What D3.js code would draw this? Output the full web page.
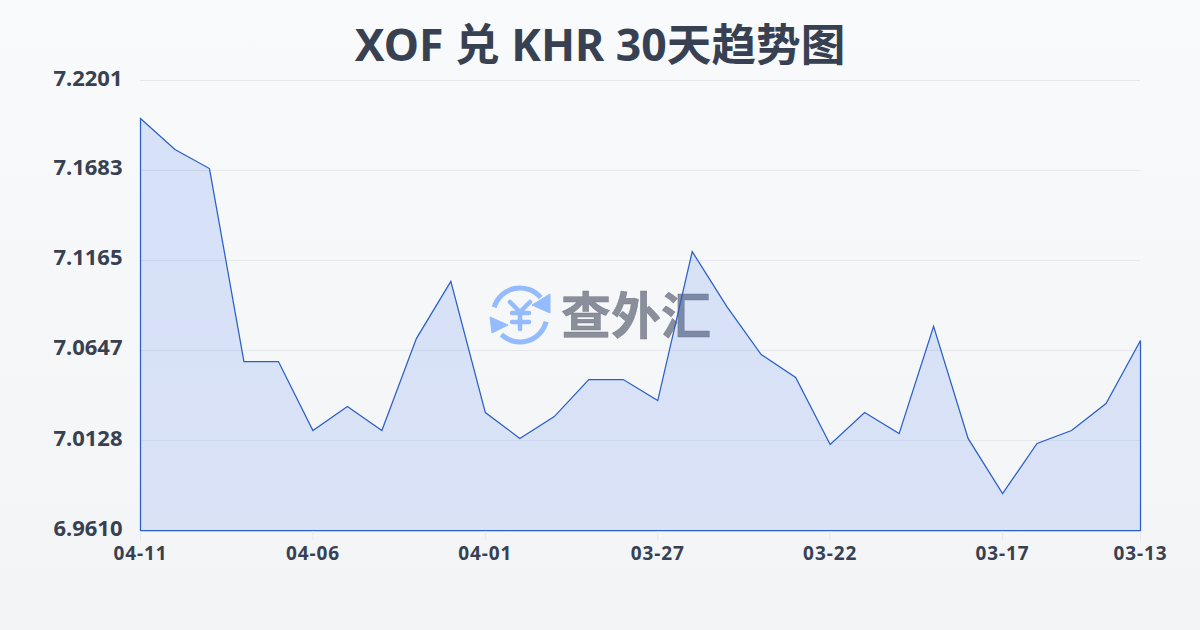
<!DOCTYPE html>
<html><head><meta charset="utf-8">
<script src="https://cdn.jsdelivr.net/npm/d3@7/dist/d3.min.js"></script>
<style>html,body{margin:0;padding:0;background:#f4f6f9}svg{display:block}text{font-family:"Noto Sans","Noto Sans CJK SC",sans-serif}</style>
</head><body><div id="chart"></div>
<script>
const titleText = "XOF 兑 KHR 30天趋势图";
const dates = ["04-11","04-10","04-09","04-08","04-07","04-06","04-05","04-04","04-03","04-02","04-01","03-31","03-30","03-29","03-28","03-27","03-26","03-25","03-24","03-23","03-22","03-21","03-20","03-19","03-18","03-17","03-16","03-15","03-14","03-13"];
const rates = [7.1982,7.1804,7.1694,7.0583,7.0583,7.0186,7.0324,7.0186,7.0715,7.1044,7.0289,7.0140,7.0266,7.0479,7.0479,7.0358,7.1216,7.0900,7.0623,7.0491,7.0105,7.0289,7.0168,7.0785,7.0140,6.9823,7.0111,7.0186,7.0341,7.0704];
const yTicks = [6.9610,7.0128,7.0647,7.1165,7.1683,7.2201];
const xTicks = ["04-11","04-06","04-01","03-27","03-22","03-17","03-13"];
const watermark = "查外汇";

const W=1200,H=630,m={l:140,r:60,t:80,b:100};
const svg=d3.select("#chart").append("svg").attr("width",W).attr("height",H);
const defs=svg.append("defs");
const bg=defs.append("linearGradient").attr("id","bg").attr("x1",0).attr("y1",0).attr("x2",0).attr("y2",1);
bg.append("stop").attr("offset",0).attr("stop-color","#f9fafb");
bg.append("stop").attr("offset",1).attr("stop-color","#f3f4f6");
const ag=defs.append("linearGradient").attr("id","ag").attr("gradientUnits","userSpaceOnUse").attr("x1",0).attr("y1",m.t).attr("x2",0).attr("y2",H-m.b);
ag.append("stop").attr("offset",0).attr("stop-color","#2563eb").attr("stop-opacity",.16);
ag.append("stop").attr("offset",1).attr("stop-color","#2563eb").attr("stop-opacity",.13);
svg.append("rect").attr("width",W).attr("height",H).attr("fill","url(#bg)");

const x=d3.scalePoint().domain(dates).range([m.l+.5,W-m.r+.5]);
const y=d3.scaleLinear().domain([yTicks[0],yTicks[yTicks.length-1]]).range([H-m.b+.5,m.t+.5]);

// gridlines
svg.append("g").selectAll("line").data(yTicks).join("line")
 .attr("x1",m.l).attr("x2",W-m.r).attr("y1",d=>y(d)).attr("y2",d=>y(d))
 .attr("stroke","#e5e7eb").attr("stroke-width",1);

// y labels
svg.append("g").selectAll("text").data(yTicks).join("text")
 .attr("x",122.5).attr("y",d=>y(d)+5).attr("text-anchor","end")
 .attr("font-size",22).attr("font-weight",700).attr("fill","#374151")
 .text(d=>d.toFixed(4));

// watermark
const wm=svg.append("g");
const arcG=wm.append("g").attr("transform","translate(520,315)").attr("fill","none").attr("stroke","#93bbfd");
const arc=d3.arc().innerRadius(27).outerRadius(27);
arcG.append("path").attr("d",arc({startAngle:-1.28,endAngle:0.87})).attr("stroke-width",5).attr("stroke-linecap","round");
arcG.append("path").attr("d",arc({startAngle:1.82,endAngle:3.9})).attr("stroke-width",5).attr("stroke-linecap","round");
arcG.append("path").attr("d","M30,-21 L30,-2 L12,-10 Z M-30,2 L-28,18 L-12,10 Z").attr("fill","#93bbfd").attr("stroke","#93bbfd").attr("stroke-width",1).attr("stroke-linejoin","round");
arcG.append("path").attr("d","M-10,-13 L0,-3 L10,-13 M-8,-2 H9 M-8,7 H9 M0,-3 V14").attr("stroke-width",4.5).attr("stroke-linecap","round").attr("stroke-linejoin","round");
wm.append("text").attr("x",561).attr("y",334).attr("font-size",50).attr("font-weight",700)
 .attr("fill","#6b7280").attr("fill-opacity",.78).attr("stroke","#6b7280").attr("stroke-opacity",.78).attr("stroke-width",.5)
 .attr("style",'font-family:"Noto Sans CJK SC"').text(watermark);

// area
const area=d3.area().x(d=>x(d[0])).y0(H-m.b+.5).y1(d=>y(d[1]));
svg.append("path").datum(dates.map((d,i)=>[d,rates[i]])).attr("d",d=>area(d)+"Z").attr("fill","url(#ag)")
 .attr("stroke","#2a5fc8").attr("stroke-width",1.25).attr("stroke-linejoin","miter");

// x ticks and labels
const xg=svg.append("g").selectAll("g").data(xTicks).join("g").attr("transform",d=>`translate(${x(d)},0)`);
xg.append("line").attr("y1",H-m.b+1).attr("y2",H-m.b+10).attr("stroke","#e5e7eb");
xg.append("text").attr("y",560).attr("text-anchor","middle").attr("font-size",19).attr("font-weight",700).attr("letter-spacing",.9).attr("fill","#374151").text(d=>d);

// title
svg.append("text").attr("x",600).attr("y",61).attr("text-anchor","middle").attr("font-size",44.6).attr("font-weight",700).attr("fill","#374151").text(titleText);
</script></body></html>
